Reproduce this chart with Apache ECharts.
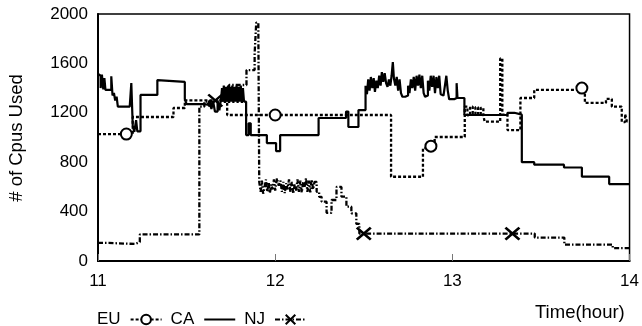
<!DOCTYPE html>
<html>
<head>
<meta charset="utf-8">
<script src="https://cdn.jsdelivr.net/npm/echarts@6/dist/echarts.min.js"></script>
<style>html,body{margin:0;padding:0;background:#fff;}#c{width:642px;height:326px;}</style>
</head>
<body>
<div id="c"></div>
<script>
// ---- data (hour, cpus); step lines ----
const seriesNames = ['EU', 'CA', 'NJ'];
const xTicks = [11, 12, 13, 14];
const yTicks = [0, 400, 800, 1200, 1600, 2000];

const euPoints = [
  [11.000,1028],[11.196,1166],[11.426,1239],[11.490,1300],[11.729,1182],
  [12.654,682],[12.834,915],[12.900,1004],[13.070,1250],[13.085,1180],[13.100,1250],
  [13.115,1190],[13.130,1245],[13.145,1185],[13.160,1240],[13.175,1180],[13.182,1128],
  [13.270,1640],[13.282,1185],[13.311,1060],[13.384,1320],[13.462,1385],
  [13.748,1280],[13.867,1312],[13.900,1250],[13.956,1125],[13.975,1190],[13.985,1130],[14.000,1130]
];
const euMarks = [[11.16,1028],[12.00,1182],[12.879,930],[13.731,1400]];

const caPoints = [
  [11.000,1515],[11.010,1500],[11.015,1400],[11.022,1510],[11.030,1390],[11.036,1480],
  [11.042,1385],[11.060,1385],[11.075,1495],[11.082,1340],[11.090,1360],[11.097,1300],
  [11.105,1330],[11.112,1250],[11.179,1250],[11.188,1440],[11.196,1100],[11.205,1045],
  [11.215,1140],[11.222,1050],[11.240,1345],[11.335,1465],[11.345,1450],[11.490,1310],
  [11.500,1270],[11.600,1265],[11.620,1250],[11.630,1300],[11.640,1230],[11.650,1290],
  [11.660,1210],[11.675,1300],[11.685,1220],[11.695,1320],[11.700,1400],[11.705,1290],
  [11.710,1420],[11.716,1280],[11.722,1410],[11.728,1290],[11.734,1420],[11.740,1280],
  [11.746,1410],[11.752,1290],[11.758,1420],[11.764,1280],[11.770,1410],[11.776,1290],
  [11.782,1420],[11.788,1280],[11.794,1410],[11.800,1290],[11.806,1420],[11.812,1280],
  [11.818,1400],[11.824,1290],[11.836,1020],[11.850,1115],[11.862,1020],[11.953,955],
  [12.005,890],[12.028,1020],[12.245,1158],[12.400,1210],[12.413,1085],[12.470,1222],
  [12.510,1420],[12.518,1350],[12.525,1470],[12.533,1380],[12.540,1490],[12.548,1400],
  [12.556,1480],[12.563,1370],[12.571,1460],[12.579,1400],[12.587,1500],[12.595,1420],
  [12.602,1530],[12.610,1450],[12.618,1520],[12.626,1440],[12.634,1410],[12.642,1470],
  [12.650,1420],[12.657,1500],[12.664,1610],[12.670,1480],[12.678,1420],[12.686,1490],
  [12.694,1380],[12.702,1470],[12.710,1360],[12.718,1330],[12.734,1320],[12.742,1340],
  [12.750,1420],[12.758,1360],[12.766,1470],[12.774,1400],[12.782,1490],[12.790,1380],
  [12.798,1500],[12.806,1420],[12.814,1510],[12.822,1400],[12.830,1500],[12.838,1360],
  [12.846,1330],[12.854,1340],[12.862,1460],[12.870,1380],[12.878,1500],[12.886,1410],
  [12.894,1500],[12.902,1360],[12.910,1490],[12.918,1400],[12.926,1500],[12.934,1350],
  [12.942,1340],[12.950,1330],[12.958,1420],[12.966,1500],[12.974,1380],[12.982,1310],
  [13.010,1310],[13.020,1320],[13.024,1440],[13.029,1320],[13.068,1182],[13.311,1200],
  [13.350,1185],[13.392,800],[13.462,780],[13.630,757],[13.731,683],[13.885,623],[14.000,623]
];

const njPoints = [
  [11.000,146],[11.060,138],[11.210,154],[11.236,215],[11.572,1250],[11.600,1290],
  [11.690,1300],[11.740,1425],[11.838,1546],[11.884,1680],[11.893,1930],[11.905,1850],
  [11.910,640],[11.918,560],[11.925,650],[11.932,545],[11.940,600],[11.948,660],
  [11.955,560],[11.963,640],[11.970,550],[11.978,620],[11.985,580],[11.993,660],
  [12.000,570],[12.010,670],[12.020,610],[12.030,650],[12.038,560],[12.046,640],
  [12.054,550],[12.062,630],[12.070,580],[12.078,660],[12.086,560],[12.094,640],
  [12.102,545],[12.110,620],[12.118,570],[12.126,660],[12.134,560],[12.142,650],
  [12.150,555],[12.158,640],[12.166,600],[12.174,670],[12.182,560],[12.190,650],
  [12.198,555],[12.206,660],[12.214,580],[12.222,640],[12.234,560],[12.248,520],
  [12.262,480],[12.290,390],[12.318,494],[12.346,600],[12.374,521],[12.402,440],
  [12.430,386],[12.458,300],[12.475,222],[13.465,190],[13.632,132],[13.905,105],[14.000,105]
];
const njMarks = [[11.662,1300],[12.50,222],[13.339,222]];

function build(points, marks) {
  const items = points.map(p => ({ value: p, symbol: 'none' }))
    .concat(marks.map(p => ({ value: p })));
  items.sort((a, b) => a.value[0] - b.value[0]);
  return items;
}

const FONT = 'Liberation Sans';
const chart = echarts.init(document.getElementById('c'), null, { renderer: 'canvas' });
chart.setOption({
  animation: false,
  backgroundColor: '#fff',
  textStyle: { fontFamily: FONT, color: '#000' },
  grid: { left: 98, right: 9, top: 14, bottom: 65, show: true, borderColor: '#000', borderWidth: 1.5, backgroundColor: 'transparent' },
  xAxis: {
    type: 'value', min: xTicks[0], max: xTicks[xTicks.length - 1], interval: 1,
    axisLine: { show: true, lineStyle: { color: '#000', width: 2 } },
    axisTick: { show: true, inside: true, length: 7, lineStyle: { color: '#777', width: 1 } },
    splitLine: { show: false },
    axisLabel: { fontSize: 17, color: '#000', fontFamily: FONT, margin: 12, formatter: v => String(v) }
  },
  yAxis: {
    type: 'value', min: yTicks[0], max: yTicks[yTicks.length - 1], interval: 400,
    axisLine: { show: true, lineStyle: { color: '#000', width: 2 } },
    axisTick: { show: false },
    splitLine: { show: false },
    axisLabel: { fontSize: 17, color: '#000', fontFamily: FONT, margin: 10, formatter: v => String(v) }
  },
  legend: {
    left: 92, top: 306, align: 'right', itemWidth: 31, itemHeight: 12, itemGap: 8,
    data: [
      { name: 'EU' },
      { name: 'CA', itemStyle: { opacity: 0 } },
      { name: 'NJ' }
    ],
    textStyle: { fontSize: 17, color: '#000', fontFamily: FONT, padding: [0, 5, 0, 0] }
  },
  graphic: [
    { type: 'text', x: 17, y: 138, rotation: Math.PI / 2,
      style: { text: '# of Cpus Used', font: '18.5px "Liberation Sans"', fill: '#000', align: 'center', verticalAlign: 'middle' } },
    { type: 'text', x: 535, y: 313,
      style: { text: 'Time(hour)', font: '18.5px "Liberation Sans"', fill: '#000', align: 'left', verticalAlign: 'middle' } }
  ],
  series: [
    { name: 'EU', type: 'line', step: 'end', data: build(euPoints, euMarks),
      symbol: 'emptyCircle', symbolSize: 11, showSymbol: true, showAllSymbol: true,
      itemStyle: { color: '#000', borderColor: '#000', borderWidth: 2 },
      lineStyle: { color: '#000', width: 2.3, type: [3, 2] } },
    { name: 'CA', type: 'line', step: 'end', data: caPoints,
      symbol: 'none', showSymbol: false,
      itemStyle: { color: '#000' },
      lineStyle: { color: '#000', width: 2.2, type: 'solid' } },
    { name: 'NJ', type: 'line', step: 'end', data: build(njPoints, njMarks),
      symbol: 'path://M0,0L10,10M10,0L0,10', symbolSize: [14, 12], showSymbol: true, showAllSymbol: true,
      itemStyle: { color: '#000', borderColor: '#000', borderWidth: 2.5 },
      lineStyle: { color: '#000', width: 2.3, type: [5, 2, 1.5, 2] } }
  ]
});
</script>
</body>
</html>
